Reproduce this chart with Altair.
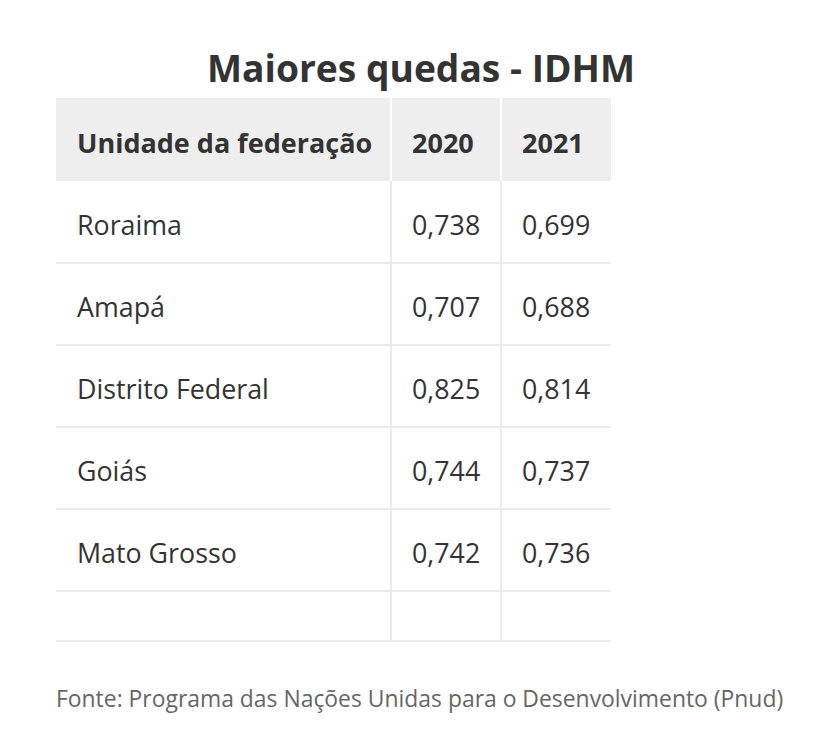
import altair as alt
import pandas as pd

# ---- data ----
title_text = "Maiores quedas - IDHM"
headers = ["Unidade da federação", "2020", "2021"]
states = ["Roraima", "Amapá", "Distrito Federal", "Goiás", "Mato Grosso"]
idhm_2020 = [0.738, 0.707, 0.825, 0.744, 0.742]
idhm_2021 = [0.699, 0.688, 0.814, 0.737, 0.736]
source_text = "Fonte: Programa das Nações Unidas para o Desenvolvimento (Pnud)"

# ---- layout ----
W, H = 802, 726
FONT = "Open Sans"
TXT = "#333333"
LINE = "#ebebeb"
HEAD_BG = "#eeeeee"
left = 48
col_w = [335, 110, 110]
pad = 21
head_top = 90
head_h = 83
row_h = 82
empty_h = 50

col_left = [left + sum(col_w[:i]) for i in range(len(col_w))]
right = left + sum(col_w)
body_top = head_top + head_h
n = len(states)
row_tops = [body_top + i * row_h for i in range(n)]
table_bottom = body_top + n * row_h + empty_h


def fmt(v):
    return f"{v:.3f}".replace(".", ",")


xs = alt.Scale(domain=[0, W], range=[0, W], nice=False, zero=False)
ys = alt.Scale(domain=[0, H], range=[0, H], nice=False, zero=False)
X = lambda f: alt.X(f, type="quantitative", scale=xs, axis=None)
Y = lambda f: alt.Y(f, type="quantitative", scale=ys, axis=None)

# header background
head_df = pd.DataFrame([{"x": left, "x2": right, "y": head_top, "y2": body_top}])
head_bg = alt.Chart(head_df).mark_rect(color=HEAD_BG).encode(
    x=X("x"), x2="x2", y=Y("y"), y2="y2")

# horizontal lines
hl = [body_top + (i + 1) * row_h for i in range(n)] + [table_bottom]
h_df = pd.DataFrame({"y": hl, "x": left, "x2": right})
h_lines = alt.Chart(h_df).mark_rule(color=LINE, strokeWidth=2).encode(
    x=X("x"), x2="x2", y=Y("y"))

# vertical separators
v_rows = []
for c in col_left[1:]:
    v_rows.append({"x": c, "y": head_top, "y2": body_top, "c": "#ffffff"})
    v_rows.append({"x": c, "y": body_top, "y2": table_bottom, "c": LINE})
v_df = pd.DataFrame(v_rows)
v_lines = alt.Chart(v_df).mark_rule(strokeWidth=2).encode(
    x=X("x"), y=Y("y"), y2="y2", color=alt.Color("c:N", scale=None))

# header text
ht_df = pd.DataFrame({"t": headers, "x": [c + pad for c in col_left],
                      "y": head_top + head_h / 2 + 5})
head_txt = alt.Chart(ht_df).mark_text(
    align="left", baseline="middle", font=FONT, fontSize=27,
    fontWeight="bold", color=TXT).encode(x=X("x"), y=Y("y"), text="t:N")

# body text
cells = []
for i, s in enumerate(states):
    yc = row_tops[i] + row_h / 2 + 5
    for j, t in enumerate([s, fmt(idhm_2020[i]), fmt(idhm_2021[i])]):
        cells.append({"t": t, "x": col_left[j] + pad, "y": yc})
b_df = pd.DataFrame(cells)
body_txt = alt.Chart(b_df).mark_text(
    align="left", baseline="middle", font=FONT, fontSize=26.8,
    color=TXT).encode(x=X("x"), y=Y("y"), text="t:N")

# title
t_df = pd.DataFrame([{"t": title_text, "x": 413, "y": 63}])
title = alt.Chart(t_df).mark_text(
    align="center", baseline="middle", font=FONT, fontSize=37.2,
    fontWeight="bold", color=TXT).encode(x=X("x"), y=Y("y"), text="t:N")

# source
s_df = pd.DataFrame([{"t": source_text, "x": left, "y": 692}])
source = alt.Chart(s_df).mark_text(
    align="left", baseline="middle", font=FONT, fontSize=22.9,
    color="#666666").encode(x=X("x"), y=Y("y"), text="t:N")

chart = alt.layer(head_bg, h_lines, v_lines, head_txt, body_txt, title, source).properties(
    width=W, height=H, autosize=alt.AutoSizeParams(type="none"), padding=0,
    view=alt.ViewBackground(strokeOpacity=0, strokeWidth=0)
).configure_view(strokeOpacity=0, strokeWidth=0).configure(background="#ffffff")

chart.save("out.html", embed_options={"renderer": "svg", "actions": False})
